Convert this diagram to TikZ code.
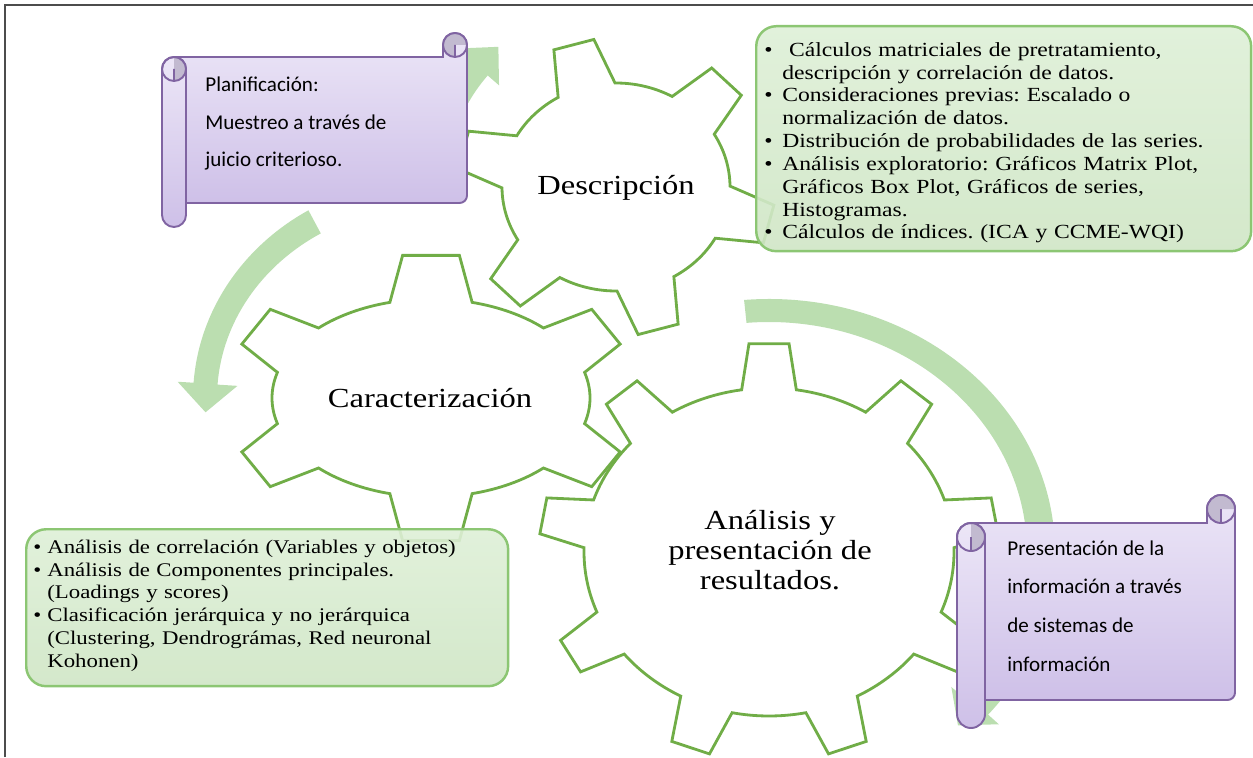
\documentclass[tikz,border=0pt]{standalone}
\usepackage{fontspec}
\setmainfont{Liberation Serif}
\newfontfamily\palfont[FakeStretch=1.18, WordSpace=0.65]{Liberation Serif}
\newfontfamily\gearfont[FakeStretch=1.18]{Liberation Serif}
\newfontfamily\calfont{Carlito}
\frenchspacing
\usepackage{xcolor}
\usetikzlibrary{positioning}
\definecolor{gearline}{RGB}{112,173,71}
\definecolor{bandgreen}{RGB}{187,222,176}
\definecolor{boxline}{RGB}{140,198,115}
\definecolor{boxtop}{RGB}{222,239,215}
\definecolor{boxbot}{RGB}{207,230,197}
\definecolor{scrolltop}{RGB}{236,230,247}
\definecolor{scrollbot}{RGB}{206,192,232}
\definecolor{scrollline}{RGB}{128,100,162}
\definecolor{scrollcurl}{RGB}{194,186,208}
\tikzset{
  gear/.style={draw=gearline, line width=1.6pt, line join=miter},
  band/.style={fill=bandgreen},
  infobox/.style={draw=boxline, line width=1.4pt, rounded corners=0.4cm, top color=boxtop, bottom color=boxbot, fill opacity=0.9, anchor=north west, inner sep=0pt},
  boxtext/.style={anchor=north west, inner sep=0pt, font=\palfont\fontsize{11.4}{13}\selectfont},
  gearlabel/.style={font=\gearfont\fontsize{15.7}{17}\selectfont, align=center, inner sep=0pt},
  scrolltext/.style={font=\calfont\fontsize{12}{21.3}\selectfont, align=left, anchor=north west, inner sep=0pt},
  sheet/.style={draw=scrollline, line width=1.1pt, top color=scrolltop, bottom color=scrollbot},
  curl/.style={fill=scrollcurl},
  rollline/.style={draw=scrollline, line width=1.1pt},
  frameline/.style={draw=black!70, line width=0.6pt}
}
\newlength{\itemind}
\setlength{\itemind}{0.36cm}
\newcommand{\bul}[1]{\par\noindent\mbox{\makebox[\itemind][l]{\textbullet}#1}}
\newcommand{\cont}[1]{\par\noindent\mbox{\hspace*{\itemind}#1}}
% center x, center y, teeth, first tooth angle, body rx, body ry, base half angle, tip half angle
\newcommand{\drawgear}[8]{%
  \pgfmathsetmacro{\ox}{#5+45}%
  \pgfmathsetmacro{\oy}{#6+45}%
  \pgfmathsetmacro{\stp}{360/#3}%
  \begin{scope}[shift={(#1,-#2)}]
    \draw[gear] ({#4-#7}:{#5} and {#6})
      \foreach \k [evaluate=\k as \a using #4+(\k-1)*\stp] in {1,...,#3} {
        -- ({\a-#8}:{\ox} and {\oy}) -- ({\a+#8}:{\ox} and {\oy}) -- ({\a+#7}:{#5} and {#6})
        arc[start angle={\a+#7}, end angle={\a+\stp-#7}, x radius=#5, y radius=#6]
      } -- cycle;
  \end{scope}}
% left, top, right, bottom, roll radius (pixels)
\newcommand{\scrollshape}[5]{%
  \pgfmathsetmacro{\yT}{#2+2*#5}%
  \pgfmathsetmacro{\yB}{#4-2*#5}%
  \path[sheet] ({#1+#5},-\yT) -- ({#3-2*#5},-\yT) -- ({#3-2*#5},{-#2-#5})
    arc[start angle=180, end angle=0, radius=#5]
    [rounded corners=0.15cm] -- (#3,-\yB) -- ({#1+#5},-\yB) [sharp corners] -- cycle;
  \fill[curl] ({#3-#5},{-#2-#5}) -- (#3,{-#2-#5}) arc[start angle=0, end angle=270, radius=#5] -- cycle;
  \draw[rollline] ({#3-#5},{-#2-#5}) circle[radius=#5] ({#3-#5},{-#2-#5}) -- ({#3-#5},-\yT);
  \path[sheet] (#1,{-\yT-#5}) -- (#1,{-#4+#5}) arc[start angle=180, end angle=360, radius=#5]
    -- ({#1+2*#5},{-\yT-#5}) arc[start angle=0, end angle=180, radius=#5] -- cycle;
  \fill[curl] ({#1+#5},{-\yT-2*#5}) arc[start angle=-90, end angle=90, radius=#5] -- cycle;
  \draw[rollline] ({#1+#5},{-\yT-#5}) circle[radius=#5] ({#1+#5},{-\yT-#5}) -- ({#1+#5},{-\yT-2*#5});
}

\begin{document}
\begin{tikzpicture}[x=0.02cm, y=0.02cm]
  \useasboundingbox (0,0) rectangle (1253,-757);

  % circular arrows
  \begin{scope}[shift={(616,-187)}]
    \fill[band] (178:196) arc[start angle=178, end angle=139, radius=196] -- (139:211) -- (130:183)
      -- (139:155) -- (139:170) arc[start angle=139, end angle=178, radius=170] -- cycle;
  \end{scope}
  \begin{scope}[shift={(431,-398)}]
    \fill[band] (121:238 and 219) arc[start angle=121, end angle=176, x radius=238, y radius=219]
      -- (176:254 and 233) -- (184:226 and 205) -- (176:194 and 174)
      -- (176:214 and 192) arc[start angle=176, end angle=121, x radius=214, y radius=192] -- cycle;
  \end{scope}
  \begin{scope}[shift={(769,-552)}]
    \fill[band] (95:286 and 253) arc[start angle=95, end angle=-40, x radius=286, y radius=253]
      -- (-40:300 and 268) -- (-46:272 and 241) -- (-40:238 and 210)
      -- (-40:258 and 230) arc[start angle=-40, end angle=95, x radius=258, y radius=230] -- cycle;
  \end{scope}

  % gears
  \drawgear{616}{187}{6}{45.5}{114}{104}{15}{7.5}
  \drawgear{431}{398}{6}{90}{159}{99}{15}{8}
  \drawgear{769}{552}{9}{90}{185}{164}{8.5}{5}

  \node[gearlabel] (desc) at (616,-188) {Descripción};
  \node[gearlabel] (carac) at (430,-398) {Caracterización};
  \node[gearlabel] (anal) at (770,-550) {Análisis y\\presentación de\\resultados.};

  % text boxes
  \node[infobox, minimum width=9.9cm, minimum height=4.5cm] (descbox) at (755,-25) {};
  \node[boxtext, text width=9.5cm] (desctext) at (764,-33) {%
    \bul{\ Cálculos matriciales de pretratamiento,}
    \cont{descripción y correlación de datos.}
    \bul{Consideraciones previas: Escalado o}
    \cont{normalización de datos.}
    \bul{Distribución de probabilidades de las series.}
    \bul{Análisis exploratorio: Gráficos Matrix Plot,}
    \cont{Gráficos Box Plot, Gráficos de series,}
    \cont{Histogramas.}
    \bul{Cálculos de índices. (ICA y CCME-WQI)}};
  \node[infobox, minimum width=9.64cm, minimum height=3.14cm] (caracbox) at (25,-528) {};
  \node[boxtext, text width=9.3cm, font=\palfont\fontsize{11}{13}\selectfont] (caractext) at (33,-530) {%
    \setlength{\itemind}{0.28cm}%
    \bul{Análisis de correlación (Variables y objetos)}
    \bul{Análisis de Componentes principales.}
    \cont{(Loadings y scores)}
    \bul{Clasificación jerárquica y no jerárquica}
    \cont{(Clustering, Dendrográmas, Red neuronal}
    \cont{Kohonen)}};

  % scrolls
  \scrollshape{162}{33}{467}{227}{12}
  \node[scrolltext] (plan) at (205,-77) {Planificación:\\Muestreo a través de\\juicio criterioso.};
  \scrollshape{957}{495}{1235}{728}{14}
  \node[scrolltext, font=\calfont\fontsize{12}{22.1}\selectfont] (pres) at (1007,-540) {Presentación de la\\información a través\\de sistemas de\\información};

  \draw[frameline] (5,-757) -- (5,-5) -- (1253,-5);
\end{tikzpicture}
\end{document}
